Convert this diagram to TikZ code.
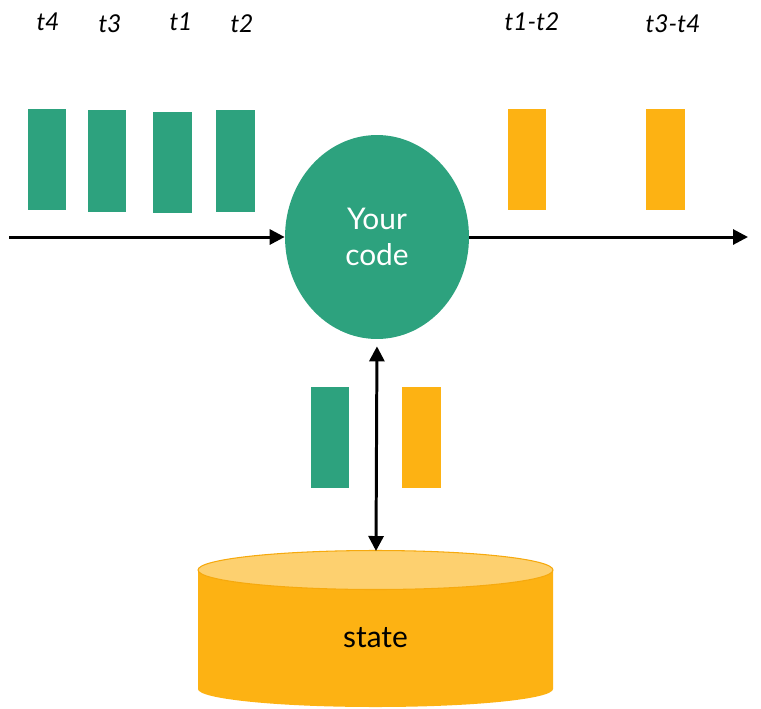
\documentclass[tikz,border=0pt]{standalone}
\usepackage{fontspec}
\setmainfont{Lato}
\usetikzlibrary{shapes.geometric, arrows.meta}

\definecolor{codegreen}{HTML}{2DA27E}
\definecolor{evtorange}{HTML}{FDB213}
\definecolor{evtlight}{HTML}{FDD06F}
\definecolor{evtedge}{HTML}{F6A90D}

\tikzset{
    flow/.style={line width=1.7pt, -{Triangle[length=3mm, width=3mm]}},
    tlabel/.style={font=\itshape\fontsize{14}{16}\selectfont},
    inevt/.style={fill=codegreen},
    outevt/.style={fill=evtorange}
}

\begin{document}
\begin{tikzpicture}[x=0.02cm, y=-0.02cm]

    \useasboundingbox (0,0) rectangle (761,708);

    % incoming events
    \fill[inevt] (28,109) rectangle (66,210);
    \fill[inevt] (88,110) rectangle (126,212);
    \fill[inevt] (153,112) rectangle (192,213);
    \fill[inevt] (216,110) rectangle (255,212);

    % outgoing results
    \fill[outevt] (508,109) rectangle (546,210);
    \fill[outevt] (646,109) rectangle (685,210);

    % state traffic
    \fill[inevt] (311,387) rectangle (349,488);
    \fill[outevt] (402,387) rectangle (441,488);

    \node[tlabel] (t4) at (48,22) {t4};
    \node[tlabel] (t3) at (110,24) {t3};
    \node[tlabel] (t1) at (181,22) {t1};
    \node[tlabel] (t2) at (242,24) {t2};
    \node[tlabel] (t12) at (532,22) {t1-t2};
    \node[tlabel] (t34) at (673,24) {t3-t4};

    % state store
    \fill[evtorange] (198,570) -- (198,689) arc[start angle=180, end angle=360,
        x radius=177.5, y radius=-18] -- (553,570) -- cycle;
    \draw[fill=evtlight, draw=evtedge, line width=0.6pt] (375.5,570)
        ellipse[x radius=177.5, y radius=19.5];
    \node[font=\fontsize{17}{20}\selectfont] (state) at (375.5,638) {state};

    \node[ellipse, fill=codegreen, inner sep=0pt, minimum width=3.68cm,
        minimum height=4.08cm, text=white, align=center,
        font=\fontsize{17}{20.4}\selectfont] (code) at (377,237) {Your\\code};

    \coordinate (in) at (9,237);
    \coordinate (out) at (748,237);
    \coordinate (statetop) at (376,551);

    \draw[flow] (in) -- (code.west);
    \draw[flow] (code.east) -- (out);
    \draw[flow, {Triangle[length=3mm, width=3mm]}-{Triangle[length=3mm, width=3mm]},
        shorten <=4pt] (code.south) -- (statetop);

\end{tikzpicture}
\end{document}
